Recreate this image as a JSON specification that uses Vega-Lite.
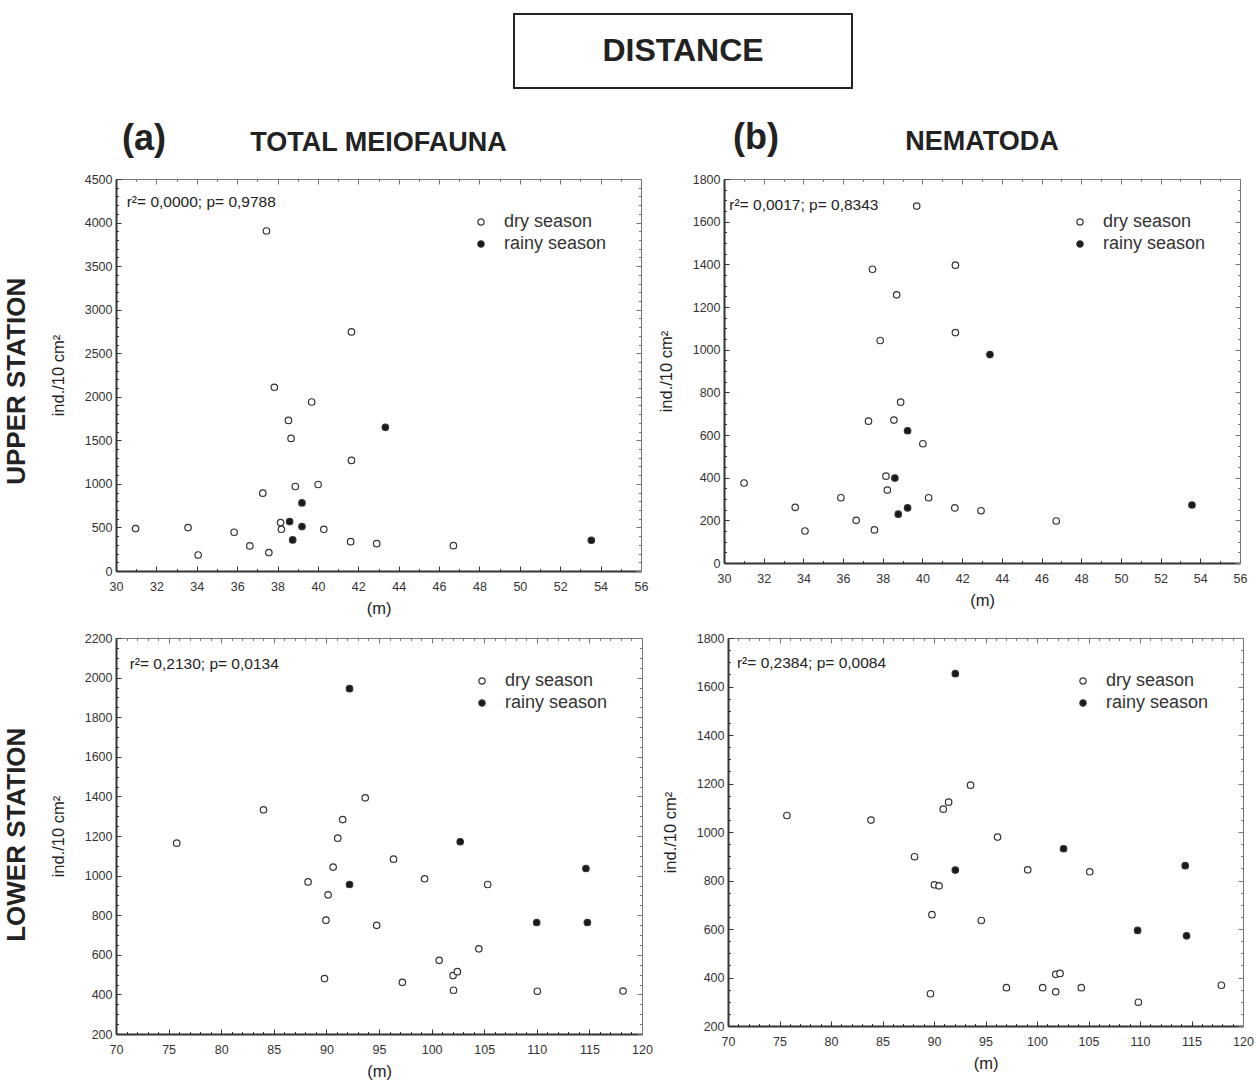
{
  "$schema": "https://vega.github.io/schema/vega-lite/v6.json",
  "background": "white",
  "padding": {"left": 4, "top": 13, "right": 5, "bottom": 5},
  "config": {
    "font": "Liberation Sans",
    "numberFormat": "d",
    "view": {"stroke": null},
    "axis": {"labelFontSize": 12.5, "labelColor": "#333", "titleFontSize": 16.5, "titleFontWeight": "normal", "titleColor": "#222", "domainColor": "#333", "tickColor": "#333", "tickWidth": 1, "grid": false, "labelFlush": false, "labelOverlap": false, "labelPadding": 14, "titlePadding": 5},
    "legend": {"orient": "top-right", "offset": 34, "labelFontSize": 18, "labelColor": "#333", "symbolSize": 40, "labelOffset": 14, "rowPadding": 4, "symbolStrokeColor": "#333", "symbolStrokeWidth": 1.2}
  },
  "datasets": {
    "upperTotal": [
      {"dist": 30.97, "density": 487, "season": "dry season"},
      {"dist": 33.57, "density": 498, "season": "dry season"},
      {"dist": 34.07, "density": 184, "season": "dry season"},
      {"dist": 35.85, "density": 445, "season": "dry season"},
      {"dist": 36.63, "density": 288, "season": "dry season"},
      {"dist": 37.27, "density": 893, "season": "dry season"},
      {"dist": 37.45, "density": 3903, "season": "dry season"},
      {"dist": 37.57, "density": 211, "season": "dry season"},
      {"dist": 37.84, "density": 2109, "season": "dry season"},
      {"dist": 38.15, "density": 556, "season": "dry season"},
      {"dist": 38.19, "density": 479, "season": "dry season"},
      {"dist": 38.54, "density": 1729, "season": "dry season"},
      {"dist": 38.67, "density": 1522, "season": "dry season"},
      {"dist": 38.88, "density": 970, "season": "dry season"},
      {"dist": 39.69, "density": 1940, "season": "dry season"},
      {"dist": 40.01, "density": 993, "season": "dry season"},
      {"dist": 40.29, "density": 479, "season": "dry season"},
      {"dist": 41.62, "density": 337, "season": "dry season"},
      {"dist": 41.66, "density": 2745, "season": "dry season"},
      {"dist": 41.66, "density": 1269, "season": "dry season"},
      {"dist": 42.91, "density": 314, "season": "dry season"},
      {"dist": 46.71, "density": 291, "season": "dry season"},
      {"dist": 38.60, "density": 567, "season": "rainy season"},
      {"dist": 38.75, "density": 357, "season": "rainy season"},
      {"dist": 39.21, "density": 782, "season": "rainy season"},
      {"dist": 39.21, "density": 510, "season": "rainy season"},
      {"dist": 43.34, "density": 1649, "season": "rainy season"},
      {"dist": 53.54, "density": 353, "season": "rainy season"}
    ],
    "upperNema": [
      {"dist": 31.01, "density": 375, "season": "dry season"},
      {"dist": 33.59, "density": 261, "season": "dry season"},
      {"dist": 34.08, "density": 150, "season": "dry season"},
      {"dist": 35.89, "density": 306, "season": "dry season"},
      {"dist": 36.66, "density": 200, "season": "dry season"},
      {"dist": 37.28, "density": 665, "season": "dry season"},
      {"dist": 37.48, "density": 1377, "season": "dry season"},
      {"dist": 37.58, "density": 155, "season": "dry season"},
      {"dist": 37.87, "density": 1043, "season": "dry season"},
      {"dist": 38.16, "density": 407, "season": "dry season"},
      {"dist": 38.23, "density": 342, "season": "dry season"},
      {"dist": 38.56, "density": 670, "season": "dry season"},
      {"dist": 38.70, "density": 1257, "season": "dry season"},
      {"dist": 38.90, "density": 754, "season": "dry season"},
      {"dist": 39.71, "density": 1673, "season": "dry season"},
      {"dist": 40.02, "density": 559, "season": "dry season"},
      {"dist": 40.31, "density": 306, "season": "dry season"},
      {"dist": 41.63, "density": 258, "season": "dry season"},
      {"dist": 41.66, "density": 1396, "season": "dry season"},
      {"dist": 41.66, "density": 1080, "season": "dry season"},
      {"dist": 42.95, "density": 245, "season": "dry season"},
      {"dist": 46.74, "density": 197, "season": "dry season"},
      {"dist": 38.61, "density": 398, "season": "rainy season"},
      {"dist": 38.78, "density": 229, "season": "rainy season"},
      {"dist": 39.25, "density": 620, "season": "rainy season"},
      {"dist": 39.25, "density": 258, "season": "rainy season"},
      {"dist": 43.40, "density": 977, "season": "rainy season"},
      {"dist": 53.58, "density": 272, "season": "rainy season"}
    ],
    "lowerTotal": [
      {"dist": 75.77, "density": 1164, "season": "dry season"},
      {"dist": 84.02, "density": 1332, "season": "dry season"},
      {"dist": 88.26, "density": 968, "season": "dry season"},
      {"dist": 89.82, "density": 480, "season": "dry season"},
      {"dist": 89.96, "density": 775, "season": "dry season"},
      {"dist": 90.16, "density": 903, "season": "dry season"},
      {"dist": 90.64, "density": 1043, "season": "dry season"},
      {"dist": 91.08, "density": 1189, "season": "dry season"},
      {"dist": 91.55, "density": 1283, "season": "dry season"},
      {"dist": 93.69, "density": 1393, "season": "dry season"},
      {"dist": 94.78, "density": 749, "season": "dry season"},
      {"dist": 96.38, "density": 1083, "season": "dry season"},
      {"dist": 97.22, "density": 461, "season": "dry season"},
      {"dist": 99.33, "density": 984, "season": "dry season"},
      {"dist": 100.72, "density": 572, "season": "dry season"},
      {"dist": 102.04, "density": 495, "season": "dry season"},
      {"dist": 102.08, "density": 421, "season": "dry season"},
      {"dist": 102.45, "density": 515, "season": "dry season"},
      {"dist": 104.49, "density": 630, "season": "dry season"},
      {"dist": 105.33, "density": 955, "season": "dry season"},
      {"dist": 110.05, "density": 416, "season": "dry season"},
      {"dist": 118.2, "density": 417, "season": "dry season"},
      {"dist": 92.2, "density": 1944, "season": "rainy season"},
      {"dist": 92.2, "density": 955, "season": "rainy season"},
      {"dist": 102.72, "density": 1171, "season": "rainy season"},
      {"dist": 109.99, "density": 763, "season": "rainy season"},
      {"dist": 114.67, "density": 1036, "season": "rainy season"},
      {"dist": 114.81, "density": 763, "season": "rainy season"}
    ],
    "lowerNema": [
      {"dist": 75.72, "density": 1068, "season": "dry season"},
      {"dist": 83.88, "density": 1049, "season": "dry season"},
      {"dist": 88.11, "density": 898, "season": "dry season"},
      {"dist": 89.66, "density": 333, "season": "dry season"},
      {"dist": 89.80, "density": 659, "season": "dry season"},
      {"dist": 90.04, "density": 782, "season": "dry season"},
      {"dist": 90.49, "density": 778, "season": "dry season"},
      {"dist": 90.90, "density": 1094, "season": "dry season"},
      {"dist": 91.42, "density": 1123, "season": "dry season"},
      {"dist": 93.55, "density": 1193, "season": "dry season"},
      {"dist": 94.59, "density": 635, "season": "dry season"},
      {"dist": 96.17, "density": 979, "season": "dry season"},
      {"dist": 97.03, "density": 358, "season": "dry season"},
      {"dist": 99.10, "density": 844, "season": "dry season"},
      {"dist": 100.55, "density": 358, "season": "dry season"},
      {"dist": 101.82, "density": 341, "season": "dry season"},
      {"dist": 101.82, "density": 413, "season": "dry season"},
      {"dist": 102.24, "density": 417, "season": "dry season"},
      {"dist": 104.30, "density": 358, "season": "dry season"},
      {"dist": 105.12, "density": 836, "season": "dry season"},
      {"dist": 109.84, "density": 298, "season": "dry season"},
      {"dist": 117.9, "density": 368, "season": "dry season"},
      {"dist": 92.07, "density": 1653, "season": "rainy season"},
      {"dist": 92.07, "density": 843, "season": "rainy season"},
      {"dist": 102.58, "density": 931, "season": "rainy season"},
      {"dist": 109.77, "density": 594, "season": "rainy season"},
      {"dist": 114.39, "density": 861, "season": "rainy season"},
      {"dist": 114.52, "density": 572, "season": "rainy season"}
    ]
  },
  "vconcat": [
    {
      "hconcat": [
        {"width": 397, "height": 74, "data": {"values": [{}]}, "mark": {"type": "text", "text": ""}, "encoding": {}},
        {"width": 338, "height": 74, "data": {"values": [{}]}, "mark": {"type": "text", "text": "DISTANCE", "fontSize": 32, "fontWeight": "bold", "color": "#222"}, "encoding": {}, "view": {"stroke": "#222", "strokeWidth": 2}}
      ],
      "spacing": 0
    },
    {
      "vconcat": [
        {
          "title": {"text": "UPPER STATION", "orient": "left", "anchor": "middle", "fontSize": 26, "fontWeight": "bold", "color": "#222", "offset": 20, "dx": -13},
          "hconcat": [
            {
              "width": 525, "height": 392,
              "layer": [
                {
                  "data": {"name": "upperTotal"},
                  "mark": {"type": "circle", "size": 42, "stroke": "#333", "strokeWidth": 1.2, "opacity": 1},
                  "encoding": {
                    "x": {"field": "dist", "type": "quantitative", "scale": {"domain": [30, 56], "nice": false, "zero": false},
                      "axis": {"orient": "bottom", "title": "(m)", "values": [30,31,32,33,34,35,36,37,38,39,40,41,42,43,44,45,46,47,48,49,50,51,52,53,54,55,56], "labelExpr": "datum.value % 2 === 0 ? datum.label : ''", "tickSize": {"condition": {"test": "datum.value % 2 === 0", "value": -5}, "value": -2.5}, "domainWidth": 2}},
                    "y": {"field": "density", "type": "quantitative", "scale": {"domain": [0, 4500], "nice": false, "zero": false},
                      "axis": {"orient": "left", "title": "ind./10 cm²", "titlePadding": 18, "values": [0,100,200,300,400,500,600,700,800,900,1000,1100,1200,1300,1400,1500,1600,1700,1800,1900,2000,2100,2200,2300,2400,2500,2600,2700,2800,2900,3000,3100,3200,3300,3400,3500,3600,3700,3800,3900,4000,4100,4200,4300,4400,4500], "labelExpr": "datum.value % 500 === 0 ? datum.label : ''", "tickSize": {"condition": {"test": "datum.value % 500 === 0", "value": -5}, "value": -2.5}, "domainWidth": 2, "labelPadding": 9}},
                    "fill": {"field": "season", "type": "nominal", "scale": {"domain": ["dry season", "rainy season"], "range": ["white", "#1a1a1a"]}, "legend": {"title": null}}
                  }
                },
                {
                  "data": {"values": [{}]},
                  "mark": {"type": "text", "text": "r²= 0,0000; p= 0,9788", "align": "left", "baseline": "middle", "fontSize": 15.5, "color": "#222"},
                  "encoding": {
                    "x": {"datum": 30.53, "type": "quantitative", "axis": {"orient": "top", "title": null, "labels": false, "values": [30,31,32,33,34,35,36,37,38,39,40,41,42,43,44,45,46,47,48,49,50,51,52,53,54,55,56], "tickSize": {"condition": {"test": "datum.value % 2 === 0", "value": -5}, "value": -2.5}, "domainColor": "#777", "tickColor": "#777"}},
                    "y": {"datum": 4236, "type": "quantitative", "axis": {"orient": "right", "title": null, "labels": false, "values": [0,100,200,300,400,500,600,700,800,900,1000,1100,1200,1300,1400,1500,1600,1700,1800,1900,2000,2100,2200,2300,2400,2500,2600,2700,2800,2900,3000,3100,3200,3300,3400,3500,3600,3700,3800,3900,4000,4100,4200,4300,4400,4500], "tickSize": {"condition": {"test": "datum.value % 500 === 0", "value": -5}, "value": -2.5}, "domainColor": "#777", "tickColor": "#777"}}
                  }
                },
                {
                  "data": {"values": [{}]},
                  "mark": {"type": "text", "text": "(a)", "align": "left", "baseline": "middle", "fontSize": 36, "fontWeight": "bold", "color": "#222"},
                  "encoding": {"x": {"datum": 30.3, "type": "quantitative", "axis": null}, "y": {"datum": 4959, "type": "quantitative", "axis": null}}
                },
                {
                  "data": {"values": [{}]},
                  "mark": {"type": "text", "text": "TOTAL MEIOFAUNA", "align": "center", "baseline": "middle", "fontSize": 27, "fontWeight": "bold", "color": "#222"},
                  "encoding": {"x": {"datum": 43, "type": "quantitative", "axis": null}, "y": {"datum": 4913, "type": "quantitative", "axis": null}}
                }
              ],
              "resolve": {"axis": {"x": "independent", "y": "independent"}}
            },
            {
              "width": 516, "height": 384,
              "layer": [
                {
                  "data": {"name": "upperNema"},
                  "mark": {"type": "circle", "size": 42, "stroke": "#333", "strokeWidth": 1.2, "opacity": 1},
                  "encoding": {
                    "x": {"field": "dist", "type": "quantitative", "scale": {"domain": [30, 56], "nice": false, "zero": false},
                      "axis": {"orient": "bottom", "title": "(m)", "values": [30,31,32,33,34,35,36,37,38,39,40,41,42,43,44,45,46,47,48,49,50,51,52,53,54,55,56], "labelExpr": "datum.value % 2 === 0 ? datum.label : ''", "tickSize": {"condition": {"test": "datum.value % 2 === 0", "value": -5}, "value": -2.5}, "domainWidth": 2}},
                    "y": {"field": "density", "type": "quantitative", "scale": {"domain": [0, 1800], "nice": false, "zero": false},
                      "axis": {"orient": "left", "title": "ind./10 cm²", "titlePadding": 18, "values": [0,50,100,150,200,250,300,350,400,450,500,550,600,650,700,750,800,850,900,950,1000,1050,1100,1150,1200,1250,1300,1350,1400,1450,1500,1550,1600,1650,1700,1750,1800], "labelExpr": "datum.value % 200 === 0 ? datum.label : ''", "tickSize": {"condition": {"test": "datum.value % 200 === 0", "value": -5}, "value": -2.5}, "domainWidth": 2, "labelPadding": 9}},
                    "fill": {"field": "season", "type": "nominal", "scale": {"domain": ["dry season", "rainy season"], "range": ["white", "#1a1a1a"]}, "legend": {"title": null}}
                  }
                },
                {
                  "data": {"values": [{}]},
                  "mark": {"type": "text", "text": "r²= 0,0017; p= 0,8343", "align": "left", "baseline": "middle", "fontSize": 15.5, "color": "#222"},
                  "encoding": {
                    "x": {"datum": 30.27, "type": "quantitative", "axis": {"orient": "top", "title": null, "labels": false, "values": [30,31,32,33,34,35,36,37,38,39,40,41,42,43,44,45,46,47,48,49,50,51,52,53,54,55,56], "tickSize": {"condition": {"test": "datum.value % 2 === 0", "value": -5}, "value": -2.5}, "domainColor": "#777", "tickColor": "#777"}},
                    "y": {"datum": 1678, "type": "quantitative", "axis": {"orient": "right", "title": null, "labels": false, "values": [0,50,100,150,200,250,300,350,400,450,500,550,600,650,700,750,800,850,900,950,1000,1050,1100,1150,1200,1250,1300,1350,1400,1450,1500,1550,1600,1650,1700,1750,1800], "tickSize": {"condition": {"test": "datum.value % 200 === 0", "value": -5}, "value": -2.5}, "domainColor": "#777", "tickColor": "#777"}}
                  }
                },
                {
                  "data": {"values": [{}]},
                  "mark": {"type": "text", "text": "(b)", "align": "left", "baseline": "middle", "fontSize": 36, "fontWeight": "bold", "color": "#222"},
                  "encoding": {"x": {"datum": 30.45, "type": "quantitative", "axis": null}, "y": {"datum": 1992, "type": "quantitative", "axis": null}}
                },
                {
                  "data": {"values": [{}]},
                  "mark": {"type": "text", "text": "NEMATODA", "align": "center", "baseline": "middle", "fontSize": 27, "fontWeight": "bold", "color": "#222"},
                  "encoding": {"x": {"datum": 43, "type": "quantitative", "axis": null}, "y": {"datum": 1973, "type": "quantitative", "axis": null}}
                }
              ],
              "resolve": {"axis": {"x": "independent", "y": "independent"}}
            }
          ],
          "spacing": 10,
          "resolve": {"scale": {"fill": "independent"}, "legend": {"fill": "independent"}}
        },
        {
          "title": {"text": "LOWER STATION", "orient": "left", "anchor": "middle", "fontSize": 26, "fontWeight": "bold", "color": "#222", "offset": 20, "dx": 21},
          "hconcat": [
            {
              "width": 526, "height": 396,
              "layer": [
                {
                  "data": {"name": "lowerTotal"},
                  "mark": {"type": "circle", "size": 42, "stroke": "#333", "strokeWidth": 1.2, "opacity": 1},
                  "encoding": {
                    "x": {"field": "dist", "type": "quantitative", "scale": {"domain": [70, 120], "nice": false, "zero": false},
                      "axis": {"orient": "bottom", "title": "(m)", "values": [70,71,72,73,74,75,76,77,78,79,80,81,82,83,84,85,86,87,88,89,90,91,92,93,94,95,96,97,98,99,100,101,102,103,104,105,106,107,108,109,110,111,112,113,114,115,116,117,118,119,120], "labelExpr": "datum.value % 5 === 0 ? datum.label : ''", "tickSize": {"condition": {"test": "datum.value % 5 === 0", "value": -5}, "value": -2.5}, "domainWidth": 2}},
                    "y": {"field": "density", "type": "quantitative", "scale": {"domain": [200, 2200], "nice": false, "zero": false},
                      "axis": {"orient": "left", "title": "ind./10 cm²", "titlePadding": 18, "values": [200,250,300,350,400,450,500,550,600,650,700,750,800,850,900,950,1000,1050,1100,1150,1200,1250,1300,1350,1400,1450,1500,1550,1600,1650,1700,1750,1800,1850,1900,1950,2000,2050,2100,2150,2200], "labelExpr": "datum.value % 200 === 0 ? datum.label : ''", "tickSize": {"condition": {"test": "datum.value % 200 === 0", "value": -5}, "value": -2.5}, "domainWidth": 2, "labelPadding": 9}},
                    "fill": {"field": "season", "type": "nominal", "scale": {"domain": ["dry season", "rainy season"], "range": ["white", "#1a1a1a"]}, "legend": {"title": null}}
                  }
                },
                {
                  "data": {"values": [{}]},
                  "mark": {"type": "text", "text": "r²= 0,2130; p= 0,0134", "align": "left", "baseline": "middle", "fontSize": 15.5, "color": "#222"},
                  "encoding": {
                    "x": {"datum": 71.3, "type": "quantitative", "axis": {"orient": "top", "title": null, "labels": false, "values": [70,71,72,73,74,75,76,77,78,79,80,81,82,83,84,85,86,87,88,89,90,91,92,93,94,95,96,97,98,99,100,101,102,103,104,105,106,107,108,109,110,111,112,113,114,115,116,117,118,119,120], "tickSize": {"condition": {"test": "datum.value % 5 === 0", "value": -5}, "value": -2.5}, "domainColor": "#777", "tickColor": "#777"}},
                    "y": {"datum": 2069, "type": "quantitative", "axis": {"orient": "right", "title": null, "labels": false, "values": [200,250,300,350,400,450,500,550,600,650,700,750,800,850,900,950,1000,1050,1100,1150,1200,1250,1300,1350,1400,1450,1500,1550,1600,1650,1700,1750,1800,1850,1900,1950,2000,2050,2100,2150,2200], "tickSize": {"condition": {"test": "datum.value % 200 === 0", "value": -5}, "value": -2.5}, "domainColor": "#777", "tickColor": "#777"}}
                  }
                }
              ],
              "resolve": {"axis": {"x": "independent", "y": "independent"}}
            },
            {
              "width": 515, "height": 388,
              "layer": [
                {
                  "data": {"name": "lowerNema"},
                  "mark": {"type": "circle", "size": 42, "stroke": "#333", "strokeWidth": 1.2, "opacity": 1},
                  "encoding": {
                    "x": {"field": "dist", "type": "quantitative", "scale": {"domain": [70, 120], "nice": false, "zero": false},
                      "axis": {"orient": "bottom", "title": "(m)", "values": [70,71,72,73,74,75,76,77,78,79,80,81,82,83,84,85,86,87,88,89,90,91,92,93,94,95,96,97,98,99,100,101,102,103,104,105,106,107,108,109,110,111,112,113,114,115,116,117,118,119,120], "labelExpr": "datum.value % 5 === 0 ? datum.label : ''", "tickSize": {"condition": {"test": "datum.value % 5 === 0", "value": -5}, "value": -2.5}, "domainWidth": 2}},
                    "y": {"field": "density", "type": "quantitative", "scale": {"domain": [200, 1800], "nice": false, "zero": false},
                      "axis": {"orient": "left", "title": "ind./10 cm²", "titlePadding": 18, "values": [200,250,300,350,400,450,500,550,600,650,700,750,800,850,900,950,1000,1050,1100,1150,1200,1250,1300,1350,1400,1450,1500,1550,1600,1650,1700,1750,1800], "labelExpr": "datum.value % 200 === 0 ? datum.label : ''", "tickSize": {"condition": {"test": "datum.value % 200 === 0", "value": -5}, "value": -2.5}, "domainWidth": 2, "labelPadding": 9}},
                    "fill": {"field": "season", "type": "nominal", "scale": {"domain": ["dry season", "rainy season"], "range": ["white", "#1a1a1a"]}, "legend": {"title": null}}
                  }
                },
                {
                  "data": {"values": [{}]},
                  "mark": {"type": "text", "text": "r²= 0,2384; p= 0,0084", "align": "left", "baseline": "middle", "fontSize": 15.5, "color": "#222"},
                  "encoding": {
                    "x": {"datum": 70.87, "type": "quantitative", "axis": {"orient": "top", "title": null, "labels": false, "values": [70,71,72,73,74,75,76,77,78,79,80,81,82,83,84,85,86,87,88,89,90,91,92,93,94,95,96,97,98,99,100,101,102,103,104,105,106,107,108,109,110,111,112,113,114,115,116,117,118,119,120], "tickSize": {"condition": {"test": "datum.value % 5 === 0", "value": -5}, "value": -2.5}, "domainColor": "#777", "tickColor": "#777"}},
                    "y": {"datum": 1697, "type": "quantitative", "axis": {"orient": "right", "title": null, "labels": false, "values": [200,250,300,350,400,450,500,550,600,650,700,750,800,850,900,950,1000,1050,1100,1150,1200,1250,1300,1350,1400,1450,1500,1550,1600,1650,1700,1750,1800], "tickSize": {"condition": {"test": "datum.value % 200 === 0", "value": -5}, "value": -2.5}, "domainColor": "#777", "tickColor": "#777"}}
                  }
                }
              ],
              "resolve": {"axis": {"x": "independent", "y": "independent"}}
            }
          ],
          "spacing": 9,
          "resolve": {"scale": {"fill": "independent"}, "legend": {"fill": "independent"}}
        }
      ],
      "spacing": 15,
      "resolve": {"scale": {"fill": "independent"}, "legend": {"fill": "independent"}}
    }
  ],
  "spacing": 31,
  "resolve": {"scale": {"fill": "independent"}, "legend": {"fill": "independent"}}
}
